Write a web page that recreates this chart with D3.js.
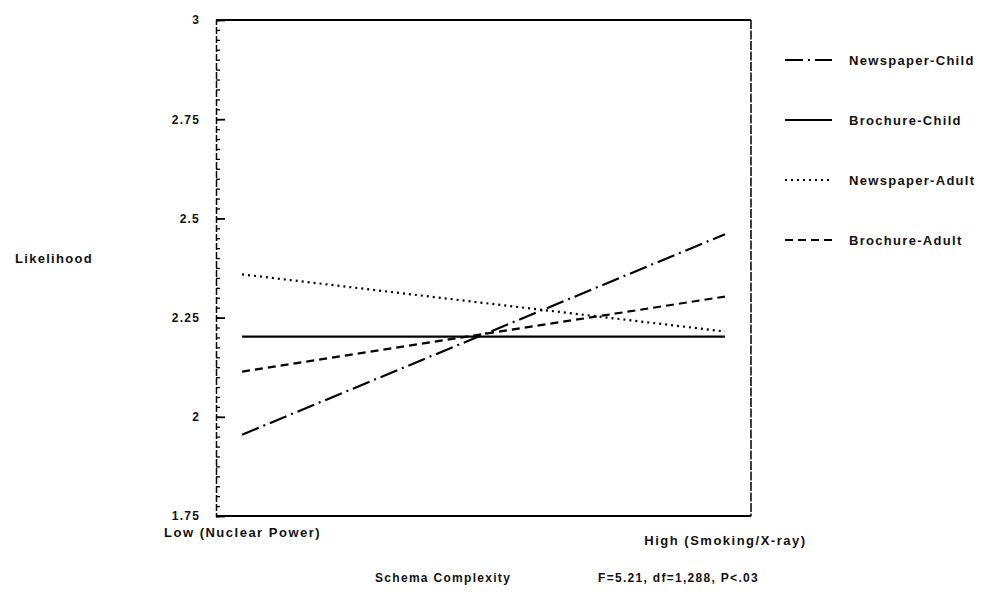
<!DOCTYPE html>
<html>
<head>
<meta charset="utf-8">
<script src="https://cdn.jsdelivr.net/npm/d3@7"></script>
<style>
	body { margin: 0; background: #fff; }
	text { font-family: 'Liberation Sans', Arial, sans-serif; font-weight: bold; fill: #111; }
</style>
</head>
<body>
<script>
// values
const categories = ['Low (Nuclear Power)', 'High (Smoking/X-ray)'];
const seriesNames = ['Newspaper-Child', 'Brochure-Child', 'Newspaper-Adult', 'Brochure-Adult'];
const newspaperChild = [1.955, 2.46];
const brochureChild = [2.202, 2.202];
const newspaperAdult = [2.359, 2.215];
const brochureAdult = [2.114, 2.303];
const yTicks = [1.75, 2, 2.25, 2.5, 2.75, 3];
const yTickLabels = ['1.75', '2', '2.25', '2.5', '2.75', '3'];

const dashes = ['18,5,2,5', null, '2,4', '8,5'];
const series = [newspaperChild, brochureChild, newspaperAdult, brochureAdult];

const width = 985;
const height = 594;
const plot = { left: 216, right: 751, top: 20, bottom: 516 };

const svg = d3
	.select('body')
	.append('svg')
	.attr('width', width)
	.attr('height', height);

const xscale = d3
	.scalePoint()
	.domain(categories)
	.range([plot.left, plot.right])
	.padding(0.054);

const yscale = d3
	.scaleLinear()
	.domain([1.75, 3])
	.range([plot.bottom, plot.top]);

// minor ticks, every 0.025
svg
	.append('g')
	.attr('transform', `translate(${plot.left},0)`)
	.call(d3.axisLeft(yscale).tickValues(d3.range(1.75, 3.001, 0.025)).tickSize(-4).tickFormat(''))
	.call(g => g.selectAll('line').attr('stroke-width', 1.3))
	.call(g => g.select('.domain').attr('stroke-width', 1.5).attr('stroke-dasharray', '7,2'));

// major ticks with labels
svg
	.append('g')
	.attr('transform', `translate(${plot.left},0)`)
	.call(
		d3.axisLeft(yscale)
			.tickValues(yTicks)
			.tickSize(-9)
			.tickPadding(16)
			.tickFormat((d, i) => yTickLabels[i])
	)
	.call(g => g.select('.domain').remove())
	.call(g => g.selectAll('line').attr('stroke-width', 1.8))
	.call(g => g.selectAll('text').attr('font-size', 12).attr('letter-spacing', 1.2));

// box
svg.append('line')
	.attr('x1', plot.left).attr('x2', plot.right)
	.attr('y1', plot.top).attr('y2', plot.top)
	.attr('stroke', '#000').attr('stroke-width', 2.2);
svg.append('line')
	.attr('x1', plot.right).attr('x2', plot.right)
	.attr('y1', plot.top).attr('y2', plot.bottom)
	.attr('stroke', '#000').attr('stroke-width', 1.5)
	.attr('stroke-dasharray', '9,1.5');
svg.append('line')
	.attr('x1', plot.left).attr('x2', plot.right)
	.attr('y1', plot.bottom).attr('y2', plot.bottom)
	.attr('stroke', '#000').attr('stroke-width', 2.2);

// category labels
svg
	.append('g')
	.attr('transform', `translate(0,${plot.bottom})`)
	.call(d3.axisBottom(xscale).tickSize(0).tickPadding(12))
	.call(g => g.select('.domain').remove())
	.call(g => g.selectAll('text').attr('font-size', 13).attr('letter-spacing', 1.5))
	.call(g => g.selectAll('.tick').filter((d, i) => i === 1).select('text').attr('dy', '1.3em'));

const line = d3
	.line()
	.x((d, i) => xscale(categories[i]))
	.y(d => yscale(d));

svg
	.selectAll('path.series')
	.data(series)
	.enter()
	.append('path')
	.attr('class', 'series')
	.attr('d', line)
	.attr('fill', 'none')
	.attr('stroke', '#000')
	.attr('stroke-width', 2.2)
	.attr('stroke-dasharray', (d, i) => dashes[i]);

// legend
const legend = svg
	.selectAll('.legend')
	.data(seriesNames)
	.enter()
	.append('g')
	.attr('class', 'legend')
	.attr('transform', (d, i) => `translate(785,${60 + i * 60})`);

legend
	.append('line')
	.attr('x1', 0)
	.attr('x2', 47)
	.attr('stroke', '#000')
	.attr('stroke-width', 2)
	.attr('stroke-dasharray', (d, i) => dashes[i]);

legend
	.append('text')
	.attr('x', 64)
	.attr('dy', '.35em')
	.attr('font-size', 13)
	.attr('letter-spacing', 1.3)
	.text(d => d);

svg
	.append('text')
	.attr('x', 15)
	.attr('y', 258)
	.attr('dy', '.35em')
	.attr('font-size', 13)
	.attr('letter-spacing', 1.3)
	.text('Likelihood');

svg
	.append('text')
	.attr('x', 375)
	.attr('y', 578)
	.attr('dy', '.35em')
	.attr('font-size', 12)
	.attr('letter-spacing', 1.3)
	.text('Schema Complexity');

svg
	.append('text')
	.attr('x', 598)
	.attr('y', 578)
	.attr('dy', '.35em')
	.attr('font-size', 12)
	.attr('letter-spacing', 1.3)
	.text('F=5.21, df=1,288, P<.03');
</script>
</body>
</html>
